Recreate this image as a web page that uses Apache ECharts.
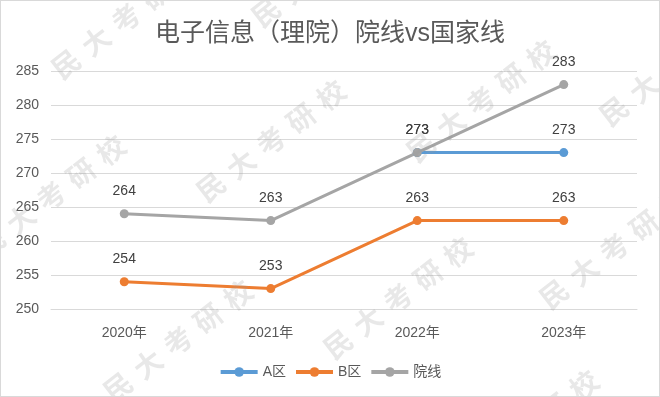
<!DOCTYPE html>
<html>
<head>
<meta charset="utf-8">
<script src="https://cdn.jsdelivr.net/npm/echarts@6/dist/echarts.min.js"></script>
<style>
  html, body { margin: 0; padding: 0; background: #fff; }
  #chart { width: 660px; height: 397px; box-sizing: border-box; border: 1px solid #d9d9d9; }
</style>
</head>
<body>
<div id="chart"></div>
<script>
// 数据
const years = ['2020年', '2021年', '2022年', '2023年'];
const zoneA = [null, null, 273, 273];
const zoneB = [254, 253, 263, 263];
const schoolLine = [264, 263, 273, 283];
const yMin = 250, yMax = 285, yStep = 5;

// 水印位置（“考”字中心）
const marks = [[125, 17], [325, -35], [50, 195], [270, 140], [480, 100], [673, 64],
               [177, 340], [397, 297], [613, 247], [523, 430]];
const markText = '民大考研校';

const cjk = "'Liberation Sans', 'Noto Sans CJK SC', sans-serif";
const chart = echarts.init(document.getElementById('chart'));

function lineSeries(name, data, color) {
    return {
        name: name,
        type: 'line',
        data: data,
        symbol: 'circle',
        symbolSize: 9,
        lineStyle: { width: 3, color: color },
        itemStyle: { color: color },
        label: {
            show: true,
            position: 'top',
            distance: 11,
            fontSize: 14,
            color: '#404040',
            fontFamily: cjk
        },
        emphasis: { disabled: true },
        animation: false
    };
}

// 水印：逐字排在斜线上
const watermark = [];
marks.forEach(p => {
    markText.split('').forEach((ch, i) => {
        const k = i - 2;
        watermark.push({
            type: 'text',
            x: p[0] + k * 30,
            y: p[1] - k * 23,
            rotation: 38 * Math.PI / 180,
            z: 100,
            silent: true,
            style: {
                text: ch,
                fontSize: 28,
                fontWeight: 'bold',
                fontFamily: "'Noto Sans CJK SC', sans-serif",
                fill: 'rgba(150,150,150,0.22)',
                textAlign: 'center',
                textVerticalAlign: 'middle'
            }
        });
    });
});

const option = {
    textStyle: { fontFamily: cjk },
    title: {
        text: '电子信息（理院）院线vs国家线',
        left: 'center',
        top: 16,
        textStyle: { fontSize: 25, fontWeight: 'normal', color: '#595959', fontFamily: cjk }
    },
    grid: { left: 50, right: 22, top: 70, bottom: 87 },
    legend: {
        bottom: 12,
        left: 'center',
        itemWidth: 37,
        itemHeight: 12,
        itemGap: 8,
        lineStyle: { width: 4 },
        textStyle: { fontSize: 14, color: '#595959', fontFamily: cjk },
        data: ['A区', 'B区', '院线']
    },
    xAxis: {
        type: 'category',
        data: years,
        axisLine: { lineStyle: { color: '#d9d9d9' } },
        axisTick: { show: false },
        axisLabel: { fontSize: 14, color: '#595959', margin: 17 }
    },
    yAxis: {
        type: 'value',
        min: yMin,
        max: yMax,
        interval: yStep,
        axisLine: { show: false },
        axisTick: { show: false },
        axisLabel: { fontSize: 14, color: '#595959', margin: 12 },
        splitLine: { lineStyle: { color: '#d9d9d9', width: 1 } }
    },
    series: [
        lineSeries('A区', zoneA, '#5b9bd5'),
        lineSeries('B区', zoneB, '#ed7d31'),
        lineSeries('院线', schoolLine, '#a5a5a5')
    ],
    graphic: watermark,
    animation: false
};

chart.setOption(option);
</script>
</body>
</html>
